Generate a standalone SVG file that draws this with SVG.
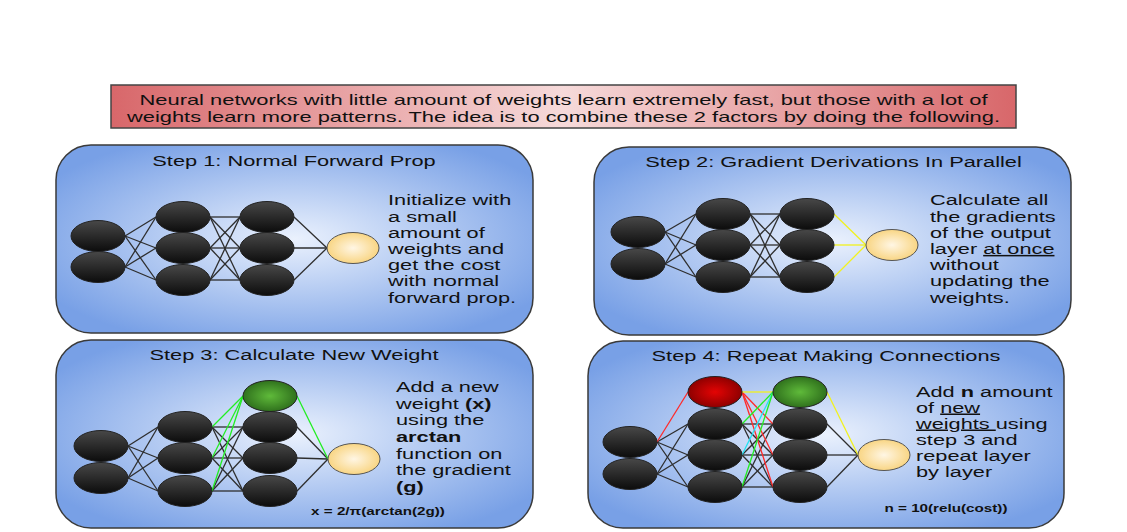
<svg xmlns="http://www.w3.org/2000/svg" width="1127" height="532" viewBox="0 0 1127 532">
<defs>
<radialGradient id="panelGrad" cx="0.5" cy="0.5" r="0.6">
<stop offset="0" stop-color="#eaf1fd"/>
<stop offset="1" stop-color="#78a0e6"/>
</radialGradient>
<linearGradient id="titleGrad" x1="0" y1="0" x2="1" y2="0">
<stop offset="0" stop-color="#d8676a"/>
<stop offset="0.5" stop-color="#f6dada"/>
<stop offset="1" stop-color="#d8676a"/>
</linearGradient>
<linearGradient id="blackGrad" x1="0" y1="0" x2="0" y2="1">
<stop offset="0" stop-color="#484848"/>
<stop offset="1" stop-color="#0c0c0c"/>
</linearGradient>
<radialGradient id="yellowGrad" cx="0.5" cy="0.5" r="0.55">
<stop offset="0" stop-color="#fff6e4"/>
<stop offset="1" stop-color="#f8d27a"/>
</radialGradient>
<radialGradient id="greenGrad" cx="0.5" cy="0.5" r="0.55">
<stop offset="0" stop-color="#5fba3a"/>
<stop offset="1" stop-color="#2b6a1a"/>
</radialGradient>
<radialGradient id="redGrad" cx="0.5" cy="0.5" r="0.55">
<stop offset="0" stop-color="#e40404"/>
<stop offset="1" stop-color="#860000"/>
</radialGradient>
</defs>
<style>
.panel{fill:url(#panelGrad);stroke:#3a3a3a;stroke-width:1.5}
.tbox{fill:url(#titleGrad);stroke:#444;stroke-width:1.5}
.nb{fill:url(#blackGrad);stroke:#222;stroke-width:1}
.ny{fill:url(#yellowGrad);stroke:#555;stroke-width:1}
.ng{fill:url(#greenGrad);stroke:#222;stroke-width:1}
.nr{fill:url(#redGrad);stroke:#222;stroke-width:1}
.c line{stroke:#2e2e2e;stroke-width:1.3}
line.y{stroke:#f2f21e;stroke-width:1.3}
line.g{stroke:#22ee22;stroke-width:1.3}
line.cy{stroke:#22e2f2;stroke-width:1.3}
line.r{stroke:#ff2a2a;stroke-width:1.3}
text{font-family:"Liberation Sans",Arial,sans-serif;fill:#111}
.ttl{font-size:15.5px;text-anchor:middle}
.body{font-size:15px}
.head{font-size:14.5px;text-anchor:middle}
.f{font-size:10.5px;font-weight:bold;text-anchor:middle}
.b{font-weight:bold}
.u{text-decoration:underline}
</style>

<g id="title-box">
<rect class="tbox" x="111" y="85" width="905" height="43"/>
<text class="head"><tspan x="563.5" y="105" textLength="848" lengthAdjust="spacingAndGlyphs">Neural networks with little amount of weights learn extremely fast, but those with a lot of</tspan><tspan x="563.5" y="122" textLength="873" lengthAdjust="spacingAndGlyphs">weights learn more patterns. The idea is to combine these 2 factors by doing the following.</tspan></text>
</g>

<g id="step1">
<rect class="panel" x="56" y="145" width="477" height="188" rx="35"/>
<text class="ttl" transform="translate(294,166) scale(1.406,1)">Step 1: Normal Forward Prop</text>
<text class="body" transform="translate(388,0) scale(1.45,1)"><tspan x="0" y="205.5">Initialize with</tspan><tspan x="0" y="221.7">a small</tspan><tspan x="0" y="237.9">amount of</tspan><tspan x="0" y="254.1">weights and</tspan><tspan x="0" y="270.3">get the cost</tspan><tspan x="0" y="286.5">with normal</tspan><tspan x="0" y="302.7">forward prop.</tspan></text>
</g>

<g id="step2">
<rect class="panel" x="594" y="147" width="477" height="188" rx="35"/>
<text class="ttl" transform="translate(833.5,167) scale(1.406,1)">Step 2: Gradient Derivations In Parallel</text>
<text class="body" transform="translate(930,0) scale(1.45,1)"><tspan x="0" y="205.5">Calculate all</tspan><tspan x="0" y="221.7">the gradients</tspan><tspan x="0" y="237.9">of the output</tspan><tspan x="0" y="254.1">layer <tspan class="u">at once</tspan></tspan><tspan x="0" y="270.3">without</tspan><tspan x="0" y="286.5">updating the</tspan><tspan x="0" y="302.7">weights.</tspan></text>
</g>

<g id="step3">
<rect class="panel" x="56" y="340" width="477" height="188" rx="35"/>
<text class="ttl" transform="translate(294,360) scale(1.406,1)">Step 3: Calculate New Weight</text>
<text class="body" transform="translate(396,0) scale(1.45,1)"><tspan x="0" y="392">Add a new</tspan><tspan x="0" y="408.7">weight <tspan class="b">(x)</tspan></tspan><tspan x="0" y="425.3">using the</tspan><tspan x="0" y="442" class="b">arctan</tspan><tspan x="0" y="458.7">function on</tspan><tspan x="0" y="475.3">the gradient</tspan><tspan x="0" y="492" class="b">(g)</tspan></text>
<text class="f" transform="translate(378,515) scale(1.45,1)">x = 2/π(arctan(2g))</text>
</g>

<g id="step4">
<rect class="panel" x="588" y="341" width="476" height="187" rx="35"/>
<text class="ttl" transform="translate(826,361) scale(1.406,1)">Step 4: Repeat Making Connections</text>
<text class="body" transform="translate(916,0) scale(1.45,1)"><tspan x="0" y="396.7">Add <tspan class="b">n</tspan> amount</tspan><tspan x="0" y="412.7">of <tspan class="u">new</tspan></tspan><tspan x="0" y="428.7"><tspan class="u">weights&#160;</tspan>using</tspan><tspan x="0" y="444.7">step 3 and</tspan><tspan x="0" y="460.7">repeat layer</tspan><tspan x="0" y="476.7">by layer</tspan></text>
<text class="f" transform="translate(946,512) scale(1.45,1)">n = 10(relu(cost))</text>
</g>

<g id="connectors" class="c">
<!-- step 1 -->
<line x1="125" y1="236" x2="156" y2="217"/><line x1="125" y1="236" x2="156" y2="248"/><line x1="125" y1="236" x2="156" y2="280"/>
<line x1="125" y1="267" x2="156" y2="217"/><line x1="125" y1="267" x2="156" y2="248"/><line x1="125" y1="267" x2="156" y2="280"/>
<line x1="210" y1="217" x2="240" y2="217"/><line x1="210" y1="217" x2="240" y2="248"/><line x1="210" y1="217" x2="240" y2="280"/>
<line x1="210" y1="248" x2="240" y2="217"/><line x1="210" y1="248" x2="240" y2="248"/><line x1="210" y1="248" x2="240" y2="280"/>
<line x1="210" y1="280" x2="240" y2="217"/><line x1="210" y1="280" x2="240" y2="248"/><line x1="210" y1="280" x2="240" y2="280"/>
<line x1="294" y1="217" x2="327" y2="248"/><line x1="294" y1="248" x2="327" y2="248"/><line x1="294" y1="280" x2="327" y2="248"/>
<!-- step 2 -->
<line x1="665" y1="232" x2="696" y2="214"/><line x1="665" y1="232" x2="696" y2="245"/><line x1="665" y1="232" x2="696" y2="277"/>
<line x1="665" y1="264" x2="696" y2="214"/><line x1="665" y1="264" x2="696" y2="245"/><line x1="665" y1="264" x2="696" y2="277"/>
<line x1="750" y1="214" x2="780" y2="214"/><line x1="750" y1="214" x2="780" y2="245"/><line x1="750" y1="214" x2="780" y2="277"/>
<line x1="750" y1="245" x2="780" y2="214"/><line x1="750" y1="245" x2="780" y2="245"/><line x1="750" y1="245" x2="780" y2="277"/>
<line x1="750" y1="277" x2="780" y2="214"/><line x1="750" y1="277" x2="780" y2="245"/><line x1="750" y1="277" x2="780" y2="277"/>
<line class="y" x1="834" y1="214" x2="866" y2="245"/><line class="y" x1="834" y1="245" x2="866" y2="245"/><line class="y" x1="834" y1="277" x2="866" y2="245"/>
<!-- step 3 -->
<line x1="128" y1="446" x2="158" y2="427"/><line x1="128" y1="446" x2="158" y2="458"/><line x1="128" y1="446" x2="158" y2="491"/>
<line x1="128" y1="478" x2="158" y2="427"/><line x1="128" y1="478" x2="158" y2="458"/><line x1="128" y1="478" x2="158" y2="491"/>
<line x1="212" y1="427" x2="243" y2="427"/><line x1="212" y1="427" x2="243" y2="458"/><line x1="212" y1="427" x2="243" y2="491"/>
<line x1="212" y1="458" x2="243" y2="427"/><line x1="212" y1="458" x2="243" y2="458"/><line x1="212" y1="458" x2="243" y2="491"/>
<line x1="212" y1="491" x2="243" y2="427"/><line x1="212" y1="491" x2="243" y2="458"/><line x1="212" y1="491" x2="243" y2="491"/>
<line x1="297" y1="427" x2="328" y2="459"/><line x1="297" y1="458" x2="328" y2="459"/><line x1="297" y1="491" x2="328" y2="459"/>
<line class="g" x1="243" y1="396" x2="212" y2="427"/><line class="g" x1="243" y1="396" x2="212" y2="458"/><line class="g" x1="243" y1="396" x2="212" y2="491"/>
<line class="g" x1="297" y1="396" x2="328" y2="459"/>
<!-- step 4 -->
<line x1="657" y1="442" x2="688" y2="424"/><line x1="657" y1="442" x2="688" y2="455"/><line x1="657" y1="442" x2="688" y2="487"/>
<line x1="657" y1="474" x2="688" y2="424"/><line x1="657" y1="474" x2="688" y2="455"/><line x1="657" y1="474" x2="688" y2="487"/>
<line x1="742" y1="424" x2="773" y2="424"/><line x1="742" y1="424" x2="773" y2="455"/><line x1="742" y1="424" x2="773" y2="487"/>
<line x1="742" y1="455" x2="773" y2="424"/><line x1="742" y1="455" x2="773" y2="455"/><line x1="742" y1="455" x2="773" y2="487"/>
<line x1="742" y1="487" x2="773" y2="424"/><line x1="742" y1="487" x2="773" y2="455"/><line x1="742" y1="487" x2="773" y2="487"/>
<line x1="827" y1="424" x2="858" y2="455"/><line x1="827" y1="455" x2="858" y2="455"/><line x1="827" y1="487" x2="858" y2="455"/>
<line class="r" x1="657" y1="442" x2="688" y2="392"/>
<line class="r" x1="742" y1="392" x2="773" y2="424"/><line class="r" x1="742" y1="392" x2="773" y2="455"/><line class="r" x1="742" y1="392" x2="773" y2="487"/>
<line class="y" x1="742" y1="392" x2="773" y2="392"/>
<line class="g" x1="773" y1="392" x2="742" y2="424"/><line class="cy" x1="773" y1="392" x2="742" y2="455"/><line class="g" x1="773" y1="392" x2="742" y2="487"/>
<line class="y" x1="827" y1="392" x2="858" y2="455"/>
</g>

<g id="nodes-step1">
<ellipse class="nb" cx="98" cy="236" rx="27" ry="15.5"/><ellipse class="nb" cx="98" cy="267" rx="27" ry="15.5"/>
<ellipse class="nb" cx="183" cy="217" rx="27" ry="15.5"/><ellipse class="nb" cx="183" cy="248" rx="27" ry="15.5"/><ellipse class="nb" cx="183" cy="280" rx="27" ry="15.5"/>
<ellipse class="nb" cx="267" cy="217" rx="27" ry="15.5"/><ellipse class="nb" cx="267" cy="248" rx="27" ry="15.5"/><ellipse class="nb" cx="267" cy="280" rx="27" ry="15.5"/>
<ellipse class="ny" cx="353" cy="248" rx="26" ry="15.5"/>
</g>
<g id="nodes-step2">
<ellipse class="nb" cx="638" cy="232" rx="27" ry="15.5"/><ellipse class="nb" cx="638" cy="264" rx="27" ry="15.5"/>
<ellipse class="nb" cx="723" cy="214" rx="27" ry="15.5"/><ellipse class="nb" cx="723" cy="245" rx="27" ry="15.5"/><ellipse class="nb" cx="723" cy="277" rx="27" ry="15.5"/>
<ellipse class="nb" cx="807" cy="214" rx="27" ry="15.5"/><ellipse class="nb" cx="807" cy="245" rx="27" ry="15.5"/><ellipse class="nb" cx="807" cy="277" rx="27" ry="15.5"/>
<ellipse class="ny" cx="892" cy="245" rx="26" ry="15.5"/>
</g>
<g id="nodes-step3">
<ellipse class="nb" cx="101" cy="446" rx="27" ry="15.5"/><ellipse class="nb" cx="101" cy="478" rx="27" ry="15.5"/>
<ellipse class="nb" cx="185" cy="427" rx="27" ry="15.5"/><ellipse class="nb" cx="185" cy="458" rx="27" ry="15.5"/><ellipse class="nb" cx="185" cy="491" rx="27" ry="15.5"/>
<ellipse class="ng" cx="270" cy="396" rx="27" ry="15.5"/>
<ellipse class="nb" cx="270" cy="427" rx="27" ry="15.5"/><ellipse class="nb" cx="270" cy="458" rx="27" ry="15.5"/><ellipse class="nb" cx="270" cy="491" rx="27" ry="15.5"/>
<ellipse class="ny" cx="354" cy="459" rx="26" ry="15.5"/>
</g>
<g id="nodes-step4">
<ellipse class="nb" cx="630" cy="442" rx="27" ry="15.5"/><ellipse class="nb" cx="630" cy="474" rx="27" ry="15.5"/>
<ellipse class="nr" cx="715" cy="392" rx="27" ry="15.5"/>
<ellipse class="nb" cx="715" cy="424" rx="27" ry="15.5"/><ellipse class="nb" cx="715" cy="455" rx="27" ry="15.5"/><ellipse class="nb" cx="715" cy="487" rx="27" ry="15.5"/>
<ellipse class="ng" cx="800" cy="392" rx="27" ry="15.5"/>
<ellipse class="nb" cx="800" cy="424" rx="27" ry="15.5"/><ellipse class="nb" cx="800" cy="455" rx="27" ry="15.5"/><ellipse class="nb" cx="800" cy="487" rx="27" ry="15.5"/>
<ellipse class="ny" cx="884" cy="455" rx="26" ry="15.5"/>
</g>
</svg>
